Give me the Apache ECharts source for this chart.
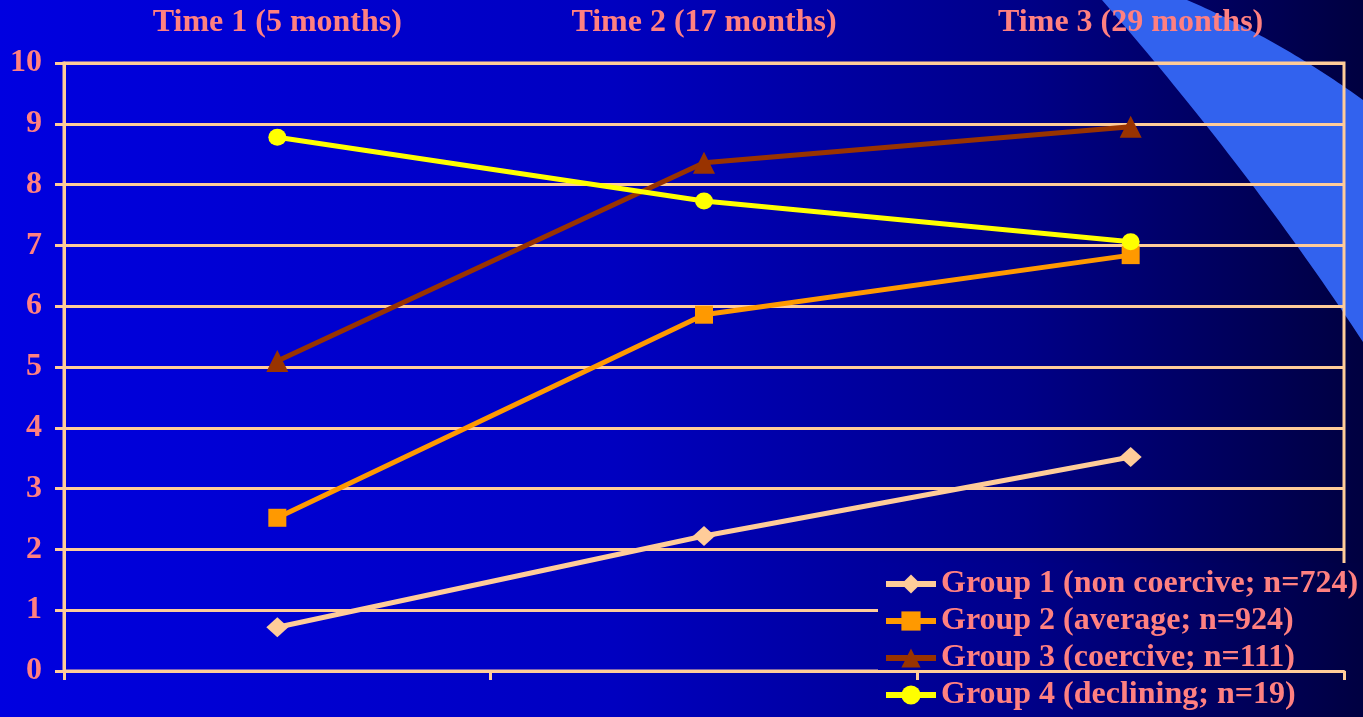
<!DOCTYPE html>
<html>
<head>
<meta charset="utf-8">
<title>Group trajectories</title>
<script src="https://cdn.jsdelivr.net/npm/echarts@6/dist/echarts.min.js"></script>
<style>
  html, body { margin: 0; padding: 0; width: 100%; height: 100%; overflow: hidden; }
  #chart { width: 1363px; height: 717px; }
</style>
</head>
<body>
<div id="chart"></div>
<script>
// Measurement times
const categories = ['Time 1 (5 months)', 'Time 2 (17 months)', 'Time 3 (29 months)'];

// Group means at each time
const group1 = [0.72, 2.22, 3.52];
const group2 = [2.52, 5.86, 6.84];
const group3 = [5.10, 8.36, 8.95];
const group4 = [8.78, 7.73, 7.06];

const seriesNames = [
  'Group 1 (non coercive; n=724)',
  'Group 2 (average; n=924)',
  'Group 3 (coercive; n=111)',
  'Group 4 (declining; n=19)'
];

// Y axis ticks
const yMin = 0, yMax = 10, yStep = 1;

const textColor = '#ff8080';
const ruleColor = '#ffcc99';
const font = '"Liberation Serif", "Times New Roman", serif';
const fontSize = 32;

const W = 1363;
const legendLeft = 878, legendTop = 563;

// Slide background; offsetX shifts it into a component's local frame
function bgGradient(offsetX) {
  return {
    type: 'linear', x: -offsetX, y: 0, x2: W - offsetX, y2: 0, global: true,
    colorStops: [
      { offset: 0, color: '#0000e0' },
      { offset: 0.45, color: '#0000c0' },
      { offset: 0.75, color: '#000088' },
      { offset: 1, color: '#000040' }
    ]
  };
}

// Decorative swoosh outline: two quadratic curves sampled into a polygon
function quad(p0, c, p1, n) {
  const pts = [];
  for (let i = 0; i <= n; i++) {
    const t = i / n, u = 1 - t;
    pts.push([u * u * p0[0] + 2 * u * t * c[0] + t * t * p1[0],
              u * u * p0[1] + 2 * u * t * c[1] + t * t * p1[1]]);
  }
  return pts;
}
const swoosh = quad([1102, 0], [1250, 170], [1363, 342], 40)
  .concat(quad([1363, 100], [1280, 40], [1187, 0], 40));

const chart = echarts.init(document.getElementById('chart'), null, { renderer: 'canvas' });

function lineSeries(name, data, color, symbol, size) {
  return {
    name: name,
    type: 'line',
    data: data,
    xAxisIndex: 0,
    symbol: symbol,
    symbolSize: size,
    lineStyle: { color: color, width: 5 },
    itemStyle: { color: color },
    emphasis: { disabled: true },
    animation: false
  };
}

chart.setOption({
  backgroundColor: bgGradient(0),
  animation: false,
  graphic: [{
    type: 'polygon',
    z: -10,
    silent: true,
    shape: { points: swoosh },
    style: { fill: '#3262ee' }
  }],
  grid: {
    left: 64, right: 19, top: 63, bottom: 46,
    show: true, borderColor: ruleColor, borderWidth: 3, backgroundColor: 'transparent'
  },
  legend: {
    orient: 'vertical',
    left: legendLeft,
    top: legendTop,
    padding: [5, 5, 0, 5],
    itemGap: 5,
    itemWidth: 50,
    itemHeight: 24,
    backgroundColor: bgGradient(legendLeft),
    selectedMode: false,
    lineStyle: { width: 6 },
    textStyle: {
      color: textColor, fontFamily: font, fontWeight: 'bold',
      fontSize: fontSize, lineHeight: 32
    },
    data: seriesNames
  },
  xAxis: [{
    type: 'category',
    data: categories,
    position: 'bottom',
    boundaryGap: true,
    z: 10,
    axisLine: { show: true, lineStyle: { color: ruleColor, width: 3 } },
    axisTick: { show: true, length: 9, lineStyle: { color: ruleColor, width: 3 } },
    axisLabel: { show: false },
    splitLine: { show: false }
  }, {
    type: 'category',
    data: categories,
    position: 'top',
    boundaryGap: true,
    axisLine: { show: false },
    axisTick: { show: false },
    axisLabel: {
      show: true, margin: 24, color: textColor,
      fontFamily: font, fontWeight: 'bold', fontSize: fontSize
    },
    splitLine: { show: false }
  }],
  yAxis: {
    type: 'value',
    min: yMin, max: yMax, interval: yStep,
    axisLine: { show: true, lineStyle: { color: ruleColor, width: 3 } },
    axisTick: { show: true, length: 9, lineStyle: { color: ruleColor, width: 3 } },
    axisLabel: {
      margin: 22, color: textColor,
      fontFamily: font, fontWeight: 'bold', fontSize: fontSize
    },
    splitLine: { show: true, lineStyle: { color: ruleColor, width: 3 } }
  },
  series: [
    lineSeries(seriesNames[0], group1, '#ffcc99', 'diamond', [22, 20]),
    lineSeries(seriesNames[1], group2, '#ff9900', 'rect', [18, 18]),
    lineSeries(seriesNames[2], group3, '#993300', 'triangle', [22, 22]),
    lineSeries(seriesNames[3], group4, '#ffff00', 'circle', [18, 17])
  ]
});
</script>
</body>
</html>
